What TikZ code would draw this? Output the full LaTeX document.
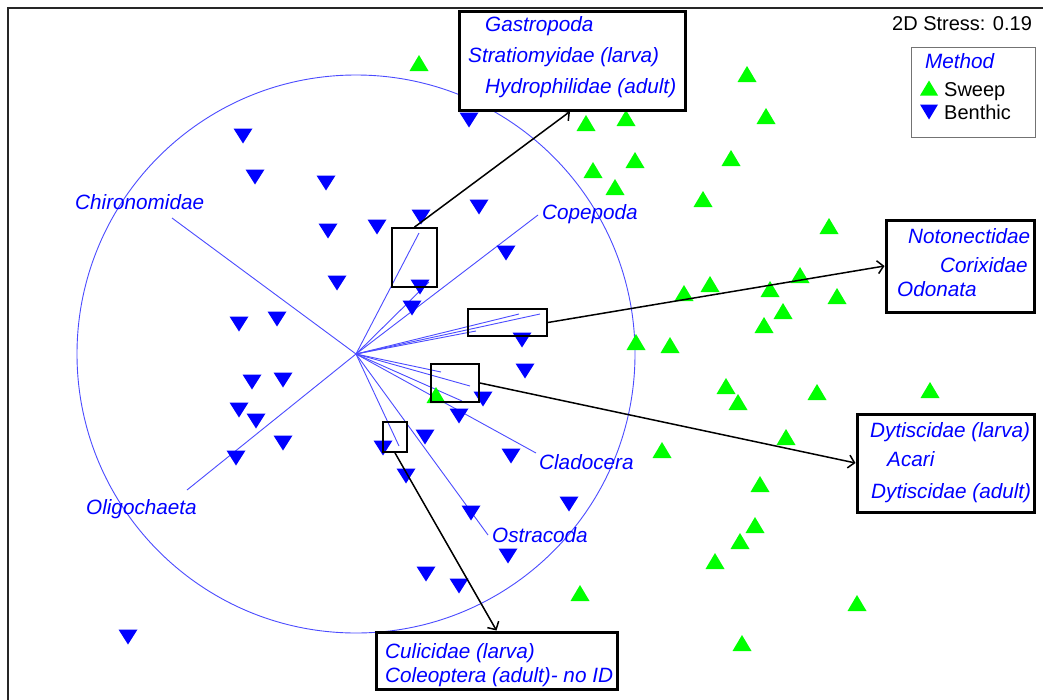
\documentclass[tikz,border=0pt]{standalone}
\usepackage{fontspec}
\setmainfont{Liberation Sans}
\usetikzlibrary{arrows.meta}
\definecolor{sweepgreen}{RGB}{0,255,0}
\definecolor{benthblue}{RGB}{0,0,255}
\definecolor{vecblue}{RGB}{75,75,255}
\definecolor{framegray}{RGB}{38,38,38}
\begin{document}
\begin{tikzpicture}[x=1pt,y=-1pt,
  taxon/.style={font=\fontsize{20.7}{24}\selectfont\itshape, text=benthblue, inner sep=0pt, anchor=base west},
  plaintext/.style={font=\fontsize{20}{24}\selectfont, text=black, inner sep=0pt, anchor=base west},
  groupbox/.style={draw=black, line width=3pt, inner sep=0pt, fill=white},
  zoombox/.style={draw=black, line width=1.8pt, inner sep=0pt},
  legendbox/.style={draw=black!55, line width=1pt, inner sep=0pt, fill=white},
  link/.style={draw=black, line width=1.5pt, -{Straight Barb[length=6pt,width=13pt,line width=1.5pt]}},
  vector/.style={draw=vecblue, line width=0.9pt},
  sweep/.style={fill=sweepgreen},
  benthic/.style={fill=benthblue}]
\useasboundingbox (0,0) rectangle (1043,699);
\clip (0,0) rectangle (1043,699);
\fill[white] (0,0) rectangle (1043,699);

% plot frame
\draw[framegray, line width=1.5pt] (8,720) -- (8,8) -- (1060,8);

% correlation circle and species vectors
\coordinate (o) at (356,354);
\draw[vecblue, line width=0.9pt] (o) circle[radius=279];
\foreach \n/\x/\y in {chi/172/218, oli/187/490, cop/538/215, cla/536/453, ost/488/535,
    a1/419/233, a2/429/282, b1/519/314, b2/540/314, b3/476/331,
    c1/441/372, c2/470/386, c3/462/401, d1/399/446}
  {\coordinate (v\n) at (\x,\y); \draw[vector] (o) -- (v\n);}

% sweep samples
\foreach \x/\y in {419/63, 747/74, 586/123, 626/118, 766/116, 635/160, 593/170, 731/158,
    615/187, 703/199, 829/226, 800/275, 684/293, 710/284, 770/289, 837/296, 783/311,
    764/325, 636/342, 670/345, 726/386, 738/402, 817/392, 930/390, 436/395, 786/437,
    662/450, 760/484, 755/525, 740/541, 715/561, 580/593, 857/603, 742/643}
  \fill[sweep, shift={(\x,\y)}] (-9.5,8) -- (9.5,8) -- (0,-8) -- cycle;

% benthic samples
\foreach \x/\y in {243/136, 469/120, 255/177, 326/183, 421/217, 479/207, 328/231, 377/227,
    506/253, 337/283, 420/287, 412/308, 239/324, 277/319, 522/340, 525/371, 252/382,
    283/380, 239/410, 256/421, 483/399, 459/416, 236/458, 283/443, 425/437, 383/448,
    406/476, 511/456, 569/504, 471/513, 508/556, 426/574, 459/586, 128/637}
  \fill[benthic, shift={(\x,\y)}] (-9.5,-7.5) -- (9.5,-7.5) -- (0,7.5) -- cycle;

% vector labels
\node[taxon] (lchi) at (75,209) {Chironomidae};
\node[taxon] (loli) at (86,514) {Oligochaeta};
\node[taxon] (lcop) at (542,219) {Copepoda};
\node[taxon] (lcla) at (539,469) {Cladocera};
\node[taxon] (lost) at (492,542) {Ostracoda};

% clusters of short vectors
\node[zoombox, minimum width=45pt, minimum height=59pt] (s1) at (414.5,257.5) {};
\node[zoombox, minimum width=79pt, minimum height=27pt] (s2) at (507.5,322.5) {};
\node[zoombox, minimum width=48pt, minimum height=38pt] (s3) at (455,383) {};
\node[zoombox, minimum width=24pt, minimum height=30pt] (s4) at (395,437) {};

% group boxes
\node[groupbox, minimum width=226pt, minimum height=99pt] (gtop) at (572,60.5) {};
\node[taxon] at (485,31) {Gastropoda};
\node[taxon] at (468,62) {Stratiomyidae (larva)};
\node[taxon] at (485,93) {Hydrophilidae (adult)};

\node[groupbox, minimum width=148pt, minimum height=92pt] (gnot) at (960,266) {};
\node[taxon] at (908,243) {Notonectidae};
\node[taxon] at (940,272) {Corixidae};
\node[taxon] at (897,296) {Odonata};

\node[groupbox, minimum width=177pt, minimum height=98pt] (gdyt) at (945.5,463) {};
\node[taxon] at (870,437) {Dytiscidae (larva)};
\node[taxon] at (887,466) {Acari};
\node[taxon] at (871,498) {Dytiscidae (adult)};

\node[groupbox, minimum width=241pt, minimum height=57pt] (gcul) at (496.5,660.5) {};
\node[taxon] at (385,658) {Culicidae (larva)};
\node[taxon] at (385,682) {Coleoptera (adult)- no ID};

% links from clusters to group boxes
\draw[link] (s1.north) -- ([xshift=-2pt]gtop.south);
\draw[link] (s2.east) -- (gnot.west);
\draw[link] (s3.east) -- (gdyt.west);
\draw[link] (s4.south) -- (gcul.north);

% stress and legend
\node[plaintext] (stress) at (892,30) {2D Stress: 0.19};
\node[legendbox, minimum width=124pt, minimum height=90pt] (legend) at (973,92) {};
\node[taxon] (lmeth) at (925,68) {Method};
\fill[sweep, shift={(929,88)}] (-9,7.5) -- (9,7.5) -- (0,-7.5) -- cycle;
\node[plaintext] (lsweep) at (944,96) {Sweep};
\fill[benthic, shift={(929,112)}] (-9,-7.5) -- (9,-7.5) -- (0,7.5) -- cycle;
\node[plaintext] (lbent) at (944,119) {Benthic};
\end{tikzpicture}
\end{document}
